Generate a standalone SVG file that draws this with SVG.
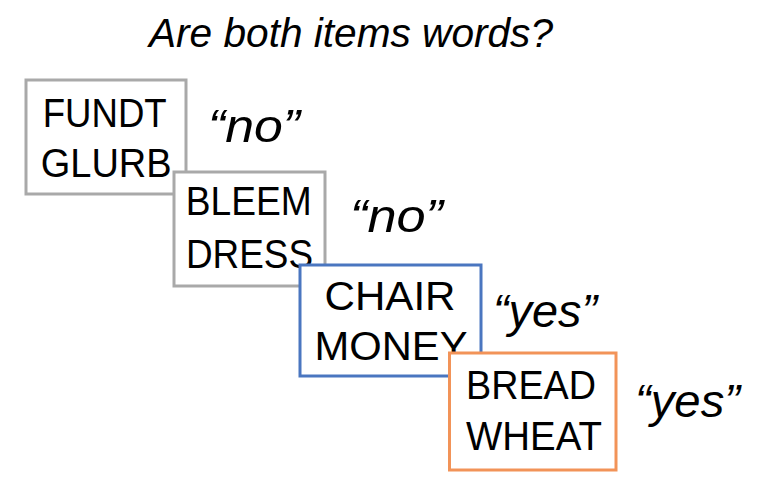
<svg xmlns="http://www.w3.org/2000/svg" width="782" height="493" viewBox="0 0 782 493">
<style>
.box{fill:#ffffff;stroke-width:3}
.gray{stroke:#a9a9a9}
.blue{stroke:#4a76c0}
.orange{stroke:#f29358}
.word{font-family:"Liberation Sans","Noto Sans",sans-serif;font-size:40px;fill:#000;text-anchor:middle}
.ans{font-family:"Liberation Sans","Noto Sans",sans-serif;font-size:46px;font-style:italic;fill:#000}
.title{font-family:"Liberation Sans","Noto Sans",sans-serif;font-size:40px;font-style:italic;fill:#000}
</style>
<rect width="782" height="493" fill="#ffffff"/>
<text class="title" x="149" y="47" textLength="404" lengthAdjust="spacingAndGlyphs">Are both items words?</text>
<g id="pair1">
<rect class="box gray" x="26" y="80" width="160" height="114"/>
<text class="word" x="104.7" y="127" textLength="124" lengthAdjust="spacingAndGlyphs">FUNDT</text>
<text class="word" x="106.2" y="177" textLength="131" lengthAdjust="spacingAndGlyphs">GLURB</text>
<text class="ans" x="208" y="142" textLength="92" lengthAdjust="spacingAndGlyphs">“no”</text>
</g>
<g id="pair2">
<rect class="box gray" x="174" y="172" width="151" height="114"/>
<text class="word" x="248.7" y="215" textLength="126" lengthAdjust="spacingAndGlyphs">BLEEM</text>
<text class="word" x="249.5" y="268" textLength="127" lengthAdjust="spacingAndGlyphs">DRESS</text>
<text class="ans" x="350" y="232" textLength="93" lengthAdjust="spacingAndGlyphs">“no”</text>
</g>
<g id="pair3">
<rect class="box blue" x="300" y="265" width="181" height="111"/>
<text class="word" x="390" y="310" textLength="131" lengthAdjust="spacingAndGlyphs">CHAIR</text>
<text class="word" x="391" y="360" textLength="153" lengthAdjust="spacingAndGlyphs">MONEY</text>
<text class="ans" x="493" y="327" textLength="104" lengthAdjust="spacingAndGlyphs">“yes”</text>
</g>
<g id="pair4">
<rect class="box orange" x="449.5" y="353" width="166.5" height="117"/>
<text class="word" x="531" y="399" textLength="130" lengthAdjust="spacingAndGlyphs">BREAD</text>
<text class="word" x="534" y="450" textLength="136" lengthAdjust="spacingAndGlyphs">WHEAT</text>
<text class="ans" x="635" y="417" textLength="105" lengthAdjust="spacingAndGlyphs">“yes”</text>
</g>
<g id="connectors"/>
</svg>
